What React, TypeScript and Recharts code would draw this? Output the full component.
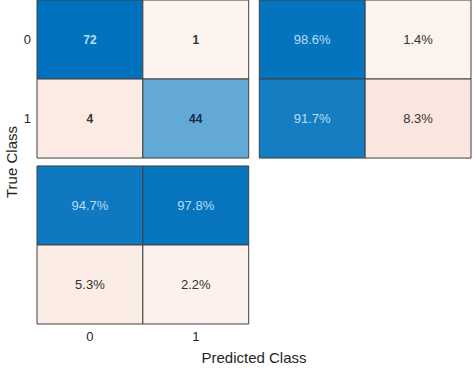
import { ScatterChart, Scatter, XAxis, YAxis, ReferenceArea } from "recharts";

const classes = ["0", "1"];
// confusion counts, rows = true class, cols = predicted class
const counts = [
  [72, 1],
  [4, 44],
];
// row summary (right), % per true class
const rowPct = [
  [98.6, 1.4],
  [91.7, 8.3],
];
// column summary (bottom), % per predicted class
const colPct = [
  [94.7, 97.8],
  [5.3, 2.2],
];

const GAP = 2.1; // panel offset in cell units
const FONT = '"Liberation Sans", Arial, sans-serif';
const BLUE = [0, 114, 189];
const ORANGE = [217, 83, 25];

function mix(to: number[], t: number) {
  const c = to.map((v) => Math.round(255 + (v - 255) * Math.min(1, t)));
  return `rgb(${c[0]},${c[1]},${c[2]})`;
}

interface Cell {
  x: number;
  y: number;
  text: string;
  fill: string;
  color: string;
  bold: boolean;
}

function makeCell(x: number, y: number, frac: number, good: boolean, text: string, bold: boolean): Cell {
  const fill = good ? mix(BLUE, frac) : mix(ORANGE, 0.06 + frac);
  const color = good && frac > 0.75 ? "#b9dcf6" : good ? "#1e2a40" : "#333333";
  return { x, y, text, fill, color, bold };
}

const maxCount = Math.max(...counts.flat());
const cells: Cell[] = [];
counts.forEach((row, r) =>
  row.forEach((v, c) => cells.push(makeCell(c, r, v / maxCount, r === c, String(v), true)))
);
rowPct.forEach((row, r) =>
  row.forEach((v, c) => cells.push(makeCell(c + GAP, r, v / 100, c === 0, `${v.toFixed(1)}%`, false)))
);
colPct.forEach((row, r) =>
  row.forEach((v, c) => cells.push(makeCell(c, r + GAP, v / 100, r === 0, `${v.toFixed(1)}%`, false)))
);

function CellText(props: { cx?: number; cy?: number; payload?: Cell }) {
  const { cx = 0, cy = 0, payload } = props;
  if (!payload) return null;
  return (
    <text
      x={cx}
      y={cy}
      textAnchor="middle"
      dominantBaseline="central"
      fill={payload.color}
      fontSize={payload.bold ? 12 : 13}
      fontWeight={payload.bold ? 700 : 400}
      fontFamily={FONT}
    >
      {payload.text}
    </text>
  );
}

export default function App() {
  const domain: [number, number] = [-0.5, 3.6];
  return (
    <div style={{ position: "absolute", left: 0, top: 0, fontFamily: FONT, background: "#fff" }}>
      <ScatterChart width={474} height={369} margin={{ top: 0, right: 3, bottom: 0, left: 0 }}>
        <XAxis
          type="number"
          dataKey="x"
          domain={domain}
          ticks={[0, 1]}
          tickFormatter={(v) => classes[v]}
          axisLine={false}
          tickLine={false}
          height={45}
          tick={{ fill: "#262626", fontSize: 13, fontFamily: FONT }}
          label={{ value: "Predicted Class", position: "insideBottom", offset: 6, fill: "#262626", fontSize: 15, fontFamily: FONT }}
        />
        <YAxis
          type="number"
          dataKey="y"
          domain={domain}
          reversed
          ticks={[0, 1]}
          tickFormatter={(v) => classes[v]}
          axisLine={false}
          tickLine={false}
          tickMargin={0}
          width={37}
          tick={{ fill: "#262626", fontSize: 13, fontFamily: FONT }}
          label={{
            value: "True Class",
            angle: -90,
            position: "insideLeft",
            offset: 12,
            fill: "#262626",
            fontSize: 15,
            fontFamily: FONT,
            style: { textAnchor: "middle" },
          }}
        />
        {cells.map((d, i) => (
          <ReferenceArea
            key={i}
            x1={d.x - 0.5}
            x2={d.x + 0.5}
            y1={d.y - 0.5}
            y2={d.y + 0.5}
            fill={d.fill}
            fillOpacity={1}
            stroke="#404040"
            strokeWidth={1}
            ifOverflow="extendDomain"
          />
        ))}
        <Scatter data={cells} isAnimationActive={false} shape={<CellText />} />
      </ScatterChart>
    </div>
  );
}
